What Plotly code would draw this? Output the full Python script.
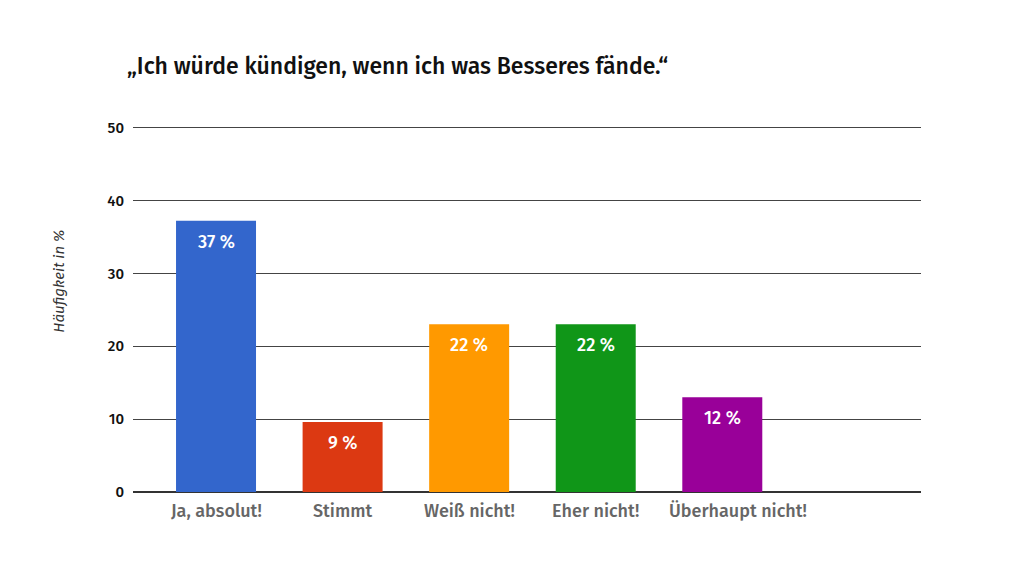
import plotly.graph_objects as go

categories = ["Ja, absolut!", "Stimmt", "Weiß nicht!", "Eher nicht!", "Überhaupt nicht!"]
values = [37.2, 9.6, 23.0, 23.0, 13.0]
bar_labels = ["37 %", "9 %", "22 %", "22 %", "12 %"]
colors = ["#3366CC", "#DC3912", "#FF9900", "#109618", "#990099"]
y_ticks = [0, 10, 20, 30, 40, 50]

FONT = "Fira Sans, Open Sans, sans-serif"
label_xshift = [0, 0, 0, 0, 16]  # last label nudged right to avoid overlap

fig = go.Figure()
fig.add_trace(go.Bar(
    x=categories, y=values, marker=dict(color=colors, line=dict(width=0)),
    width=0.632, hoverinfo="skip",
))
for c, v, t in zip(categories, values, bar_labels):
    fig.add_annotation(x=c, y=v, text=t, showarrow=False, yshift=-21,
                       font=dict(family=FONT, size=18, color="white", weight=500))
for c, dx in zip(categories, label_xshift):
    fig.add_annotation(x=c, y=0, yref="paper", text=c, showarrow=False,
                       yanchor="top", yshift=-6, xshift=dx,
                       font=dict(family=FONT, size=18, color="#666", weight=500))
fig.add_annotation(x=-0.109, y=0.575, xref="paper", yref="paper",
                   text="<i>Häufigkeit in %</i>", showarrow=False, textangle=-90,
                   font=dict(family=FONT, size=15, color="#333"))

fig.update_layout(
    width=1016, height=557,
    margin=dict(l=125, r=103, t=118, b=73),
    paper_bgcolor="white", plot_bgcolor="white",
    showlegend=False,
    title=dict(text="„Ich würde kündigen, wenn ich was Besseres fände.“",
               x=119/1016, xanchor="left", y=1-58/557, yanchor="middle",
               font=dict(family=FONT, size=23, color="#111", weight=500)),
    xaxis=dict(range=[-0.656, 5.57], showgrid=False, zeroline=False,
               showline=False, ticks="", showticklabels=False),
    yaxis=dict(range=[0, 50.2], tickvals=y_ticks, showgrid=True,
               gridcolor="#444", gridwidth=1, zeroline=True,
               zerolinecolor="#333", zerolinewidth=2, showline=False,
               ticks="", ticklabelstandoff=8,
               tickfont=dict(family=FONT, size=15, color="#111", weight=500)),
)
fig.write_html("out.html")
